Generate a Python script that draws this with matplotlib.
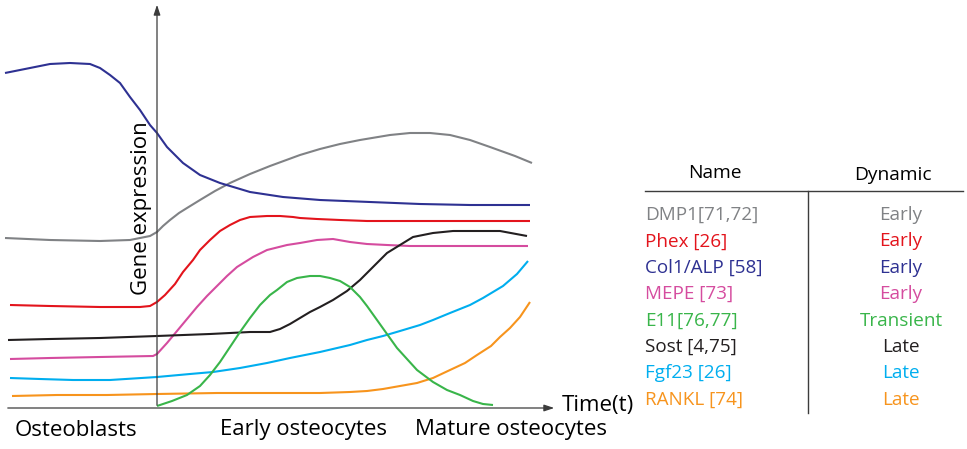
import numpy as np
import matplotlib.pyplot as plt

plt.rcParams['font.family'] = ['Open Sans', 'DejaVu Sans']

# curve readings: time (px from the y axis) and expression (px above the x axis)
col1_t = [-152, -127, -107, -87, -67, -57, -47, -37, -27, -17, -7, 0, 10, 26, 43, 63, 93, 126, 163, 213, 263, 313, 373]
col1_e = [335, 340, 344, 345, 344, 340, 333, 325, 311, 298, 283, 275, 261, 245, 233, 225, 216, 211, 208, 206, 204, 203, 203]

dmp1_t = [-152, -107, -57, -27, -7, 0, 6, 13, 22, 30, 43, 58, 73, 93, 113, 143, 163, 183, 203, 233, 253, 273, 293, 313, 333, 358, 375]
dmp1_e = [170, 168, 167, 168, 172, 176, 182, 188, 195, 200, 208, 217, 225, 234, 242, 253, 259, 264, 268, 273, 275, 275, 273, 268, 261, 252, 245]

phex_t = [-147, -107, -57, -17, -7, 0, 8, 18, 26, 36, 43, 53, 63, 73, 83, 93, 110, 123, 136, 143, 160, 183, 210, 260, 300, 373]
phex_e = [103, 102, 101, 101, 102, 106, 113, 124, 136, 148, 158, 168, 177, 183, 188, 191, 192, 192, 191, 190, 189, 188, 187, 187, 187, 187]

mepe_t = [-147, -107, -57, -4, 0, 10, 20, 30, 40, 50, 60, 70, 80, 96, 110, 130, 143, 160, 176, 193, 210, 230, 253, 300, 371]
mepe_e = [49, 50, 51, 52, 54, 65, 77, 89, 101, 112, 122, 132, 141, 151, 158, 163, 165, 168, 169, 166, 164, 163, 162, 162, 162]

e11_t = [0, 15, 30, 43, 53, 63, 73, 83, 93, 103, 113, 120, 130, 140, 153, 163, 173, 183, 193, 203, 210, 220, 230, 240, 250, 260, 276, 290, 303, 316, 326, 336]
e11_e = [2, 7, 13, 22, 33, 46, 61, 76, 90, 103, 113, 118, 126, 130, 132, 132, 130, 127, 121, 111, 102, 88, 74, 60, 49, 38, 26, 18, 13, 7, 4, 3]

sost_t = [-149, -107, -57, 0, 53, 93, 113, 123, 133, 143, 153, 163, 176, 190, 203, 216, 230, 243, 256, 276, 296, 316, 343, 370]
sost_e = [68, 69, 70, 72, 74, 76, 76, 79, 84, 90, 96, 101, 108, 117, 128, 141, 155, 163, 171, 175, 177, 177, 177, 172]

fgf23_t = [-147, -117, -84, -47, 0, 33, 56, 83, 110, 133, 163, 193, 210, 226, 243, 263, 276, 293, 313, 326, 336, 346, 353, 360, 371]
fgf23_e = [30, 29, 28, 28, 31, 34, 36, 40, 45, 50, 56, 63, 68, 72, 77, 83, 88, 95, 103, 110, 116, 122, 128, 134, 147]

rankl_t = [-145, -100, -50, 0, 60, 110, 163, 193, 210, 226, 243, 260, 276, 293, 308, 320, 334, 343, 353, 363, 373]
rankl_e = [12, 13, 13, 14, 15, 15, 15, 16, 17, 19, 22, 25, 30, 38, 45, 53, 62, 71, 80, 91, 106]

names = ['DMP1[71,72]', 'Phex [26]', 'Col1/ALP [58]', 'MEPE [73]',
         'E11[76,77]', 'Sost [4,75]', 'Fgf23 [26]', 'RANKL [74]']
dynamics = ['Early', 'Early', 'Early', 'Early', 'Transient', 'Late', 'Late', 'Late']
colors = ['#808285', '#e3141c', '#2e3192', '#d54c9f', '#39b54a', '#231f20', '#00aeef', '#f7941d']
curves = [(dmp1_t, dmp1_e), (phex_t, phex_e), (col1_t, col1_e), (mepe_t, mepe_e),
          (e11_t, e11_e), (sost_t, sost_e), (fgf23_t, fgf23_e), (rankl_t, rankl_e)]

fig = plt.figure(figsize=(9.67, 4.49), dpi=100)
ax = fig.add_axes([0, 0, 1, 1])
ax.set_xlim(-157, 810)
ax.set_ylim(-41, 408)
ax.axis('off')

# curves
draw_order = [0, 2, 1, 3, 5, 6, 7, 4]
for i in draw_order:
    t, e = curves[i]
    ax.plot(t, e, color=colors[i], lw=1.5, solid_capstyle='butt',
            solid_joinstyle='round', zorder=3)

# axes arrows
ax.annotate('', xy=(0, 406), xytext=(0, 0),
            arrowprops=dict(arrowstyle='-|>,head_length=0.6,head_width=0.2', color='#3c3c3c', lw=0.9))
ax.annotate('', xy=(400, 0), xytext=(-152, 0),
            arrowprops=dict(arrowstyle='-|>,head_length=0.6,head_width=0.2', color='#3c3c3c', lw=0.9))

ax.text(405, 2, 'Time(t)', fontsize=16, ha='left', va='center')
ax.text(-16, 200, 'Gene expression', fontsize=16, rotation=90, ha='center', va='center')

ax.text(-142, -22, 'Osteoblasts', fontsize=16, ha='left', va='center')
ax.text(147, -22, 'Early osteocytes', fontsize=16, ha='center', va='center')
ax.text(354, -22, 'Mature osteocytes', fontsize=16, ha='center', va='center')

# table
ax.text(558, 235, 'Name', fontsize=13.8, ha='center', va='center')
ax.text(736, 233, 'Dynamic', fontsize=13.8, ha='center', va='center')
ax.plot([488, 806], [217, 217], color='#3c3c3c', lw=1.0)
ax.plot([651, 651], [217, -5], color='#3c3c3c', lw=1.0)
row_y = 193 - np.arange(len(names)) * 26.4
for name, dyn, c, y in zip(names, dynamics, colors, row_y):
    ax.text(488, y, name, fontsize=13.6, color=c, ha='left', va='center')
    ax.text(744, y, dyn, fontsize=13.6, color=c, ha='center', va='center')

fig.savefig('out.png', dpi=100)
